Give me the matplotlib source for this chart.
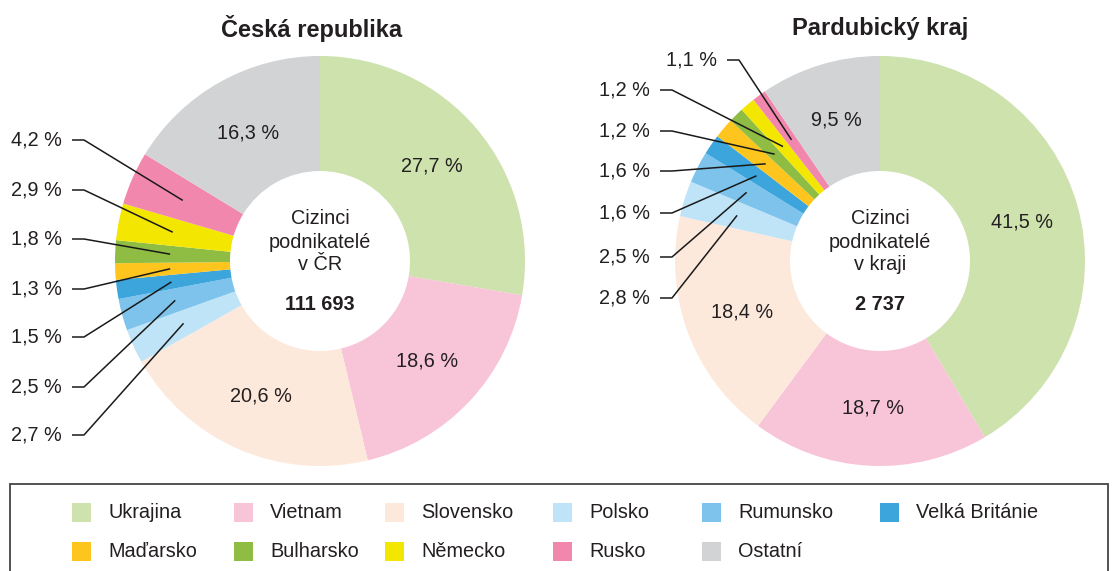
import numpy as np
import matplotlib
matplotlib.use("Agg")
import matplotlib.pyplot as plt
from matplotlib.patches import Rectangle

# ---------------- data ----------------
categories = ["Ukrajina", "Vietnam", "Slovensko", "Polsko", "Rumunsko", "Velká Británie",
              "Maďarsko", "Bulharsko", "Německo", "Rusko", "Ostatní"]
colors = ["#cde2ad", "#f8c4d8", "#fde9dc", "#bfe3f7", "#7dc3eb", "#3ba5dc",
          "#fec51e", "#8fbc43", "#f3e600", "#f287ad", "#d1d3d4"]
cr_values = [27.7, 18.6, 20.6, 2.7, 2.5, 1.5, 1.3, 1.8, 2.9, 4.2, 16.3]
pk_values = [41.5, 18.7, 18.4, 2.8, 2.5, 1.6, 1.6, 1.2, 1.2, 1.1, 9.5]
titles = ["Česká republika", "Pardubický kraj"]
center_lines = [["Cizinci", "podnikatelé", "v ČR"], ["Cizinci", "podnikatelé", "v kraji"]]
totals = ["111 693", "2 737"]

# ---------------- layout (pixels) ----------------
W, H = 1115, 571
TXT = "#231f20"
FS = 14.3
centers = [(320, 261), (880, 261)]
R_OUT, R_IN = 205, 90
R_LAB = 147
inner_idx = [0, 1, 2, 10]
outer_idx = [9, 8, 7, 6, 5, 4, 3]          # from top to bottom
ext_x = [62, 650]
ext_y = [[140, 190, 239, 289, 337, 387, 435],
         [90, 90, 131, 171, 213, 257, 298]]
ext_x_override = {(1, 0): (717, 60)}        # first right label sits higher / further right

plt.rcParams['font.family'] = ['Liberation Sans', 'DejaVu Sans']
fig = plt.figure(figsize=(W / 100, H / 100), dpi=100)
ax = fig.add_axes([0, 0, 1, 1])


def Y(y):
    return H - y


def fmt(v):
    return f"{v:.1f}".replace(".", ",") + " %"


for k, vals in enumerate([cr_values, pk_values]):
    cx, cy = centers[k]
    ax.pie(vals, colors=colors, startangle=90, counterclock=False,
           radius=R_OUT, center=(cx, Y(cy)),
           wedgeprops=dict(width=R_OUT - R_IN, linewidth=0, antialiased=True),
           normalize=True)
    tot = sum(vals)
    cum = np.cumsum([0] + list(vals))
    mids = [90 - (cum[i] + vals[i] / 2) / tot * 360 for i in range(len(vals))]

    for i in inner_idx:
        a = np.deg2rad(mids[i])
        ax.text(cx + R_LAB * np.cos(a), Y(cy) + R_LAB * np.sin(a), fmt(vals[i]),
                ha="center", va="center", fontsize=FS, color=TXT)

    for j, i in enumerate(outer_idx):
        tx, ty = ext_x[k], ext_y[k][j]
        if (k, j) in ext_x_override:
            tx, ty = ext_x_override[(k, j)]
        a = np.deg2rad(mids[i])
        ex, ey = cx + 150 * np.cos(a), Y(cy) + 150 * np.sin(a)
        ax.text(tx, Y(ty), fmt(vals[i]), ha="right", va="center", fontsize=FS, color=TXT)
        ax.plot([tx + 10, tx + 22, ex], [Y(ty), Y(ty), ey], color="#1a1a1a", lw=1.1,
                solid_capstyle="butt")

    ax.text(cx - 8 if k == 0 else cx, Y(28), titles[k], ha="center", va="center",
            fontsize=17, fontweight="bold", color=TXT)
    for ln, yy in zip(center_lines[k], [219, 242, 265]):
        ax.text(cx, Y(yy), ln, ha="center", va="center", fontsize=FS, color=TXT)
    ax.text(cx, Y(304), totals[k], ha="center", va="center", fontsize=FS,
            fontweight="bold", color=TXT)

# ---------------- legend ----------------
ax.add_patch(Rectangle((10, Y(600)), 1098, 600 - 484, facecolor="none",
                       edgecolor="#444444", lw=1.3, clip_on=False))
col_x = [72, 234, 385, 553, 702, 880]
row_y = [512.5, 551.5]
for n, (name, c) in enumerate(zip(categories, colors)):
    r, cidx = divmod(n, 6)
    x0, y0 = col_x[cidx], row_y[r]
    ax.add_patch(Rectangle((x0, Y(y0) - 9.5), 19, 19, facecolor=c, edgecolor="none"))
    ax.text(x0 + 36, Y(y0), name, ha="left", va="center", fontsize=FS, color=TXT)

ax.set_xlim(0, W)
ax.set_ylim(0, H)
ax.set_aspect("auto")
ax.axis("off")
fig.savefig("out.png", dpi=100)
